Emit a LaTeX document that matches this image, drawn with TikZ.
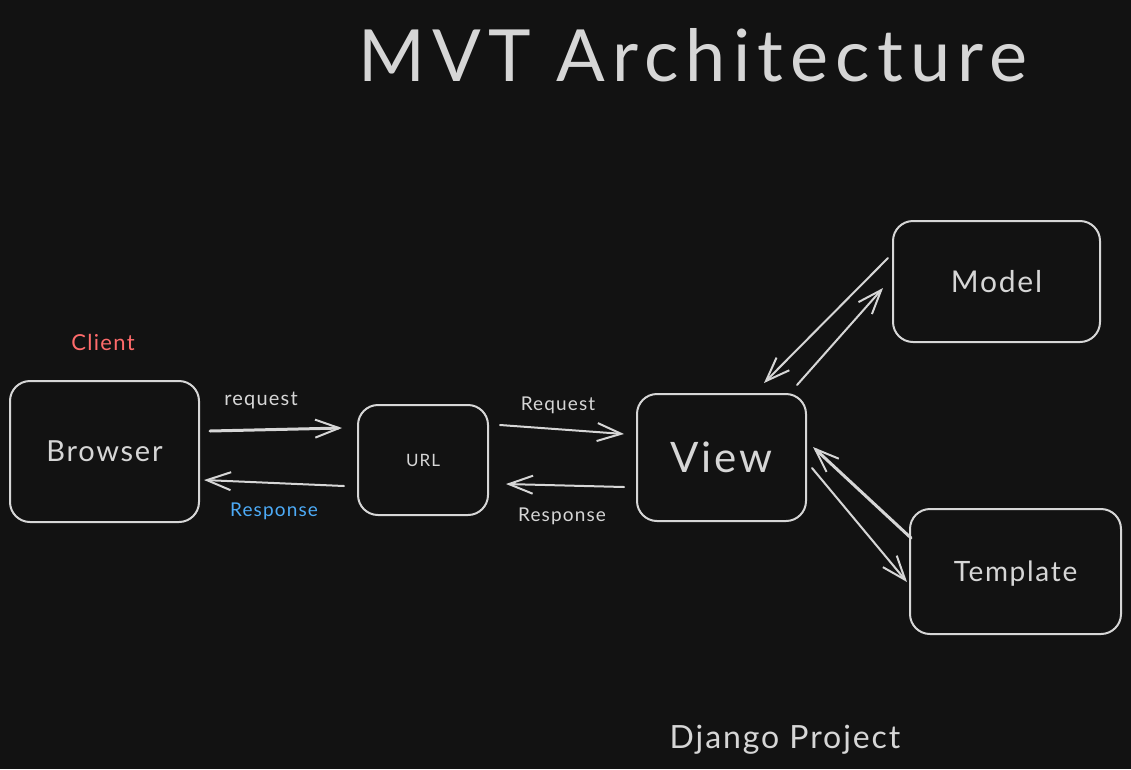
\documentclass[tikz,border=0pt]{standalone}
\usepackage{fontspec}
\setmainfont{Lato}[LetterSpace=6]
\newfontfamily\titlefont{Lato}[LetterSpace=10]
\usetikzlibrary{arrows.meta,calc}
\definecolor{bg}{HTML}{121212}
\definecolor{ink}{HTML}{D6D6D6}
\definecolor{clientred}{HTML}{FF6B6B}
\definecolor{respblue}{HTML}{4DABF7}
\tikzset{
  boxnode/.style={draw=ink, line width=2pt, rounded corners=20pt, text=ink, inner sep=0pt},
  lbl/.style={text=ink, inner sep=0pt},
  arr/.style={draw=ink, line width=2pt, line cap=round, line join=round,
    -{Straight Barb[length=24pt,width=18pt,line width=2pt]}},
  thickarr/.style={arr, line width=3pt},
}
\newcommand{\fsz}[1]{\fontsize{#1}{#1}\selectfont}
\begin{document}
\begin{tikzpicture}[x=1pt,y=-1pt]
\fill[bg] (0,0) rectangle (1131,769);
\useasboundingbox (0,0) rectangle (1131,769);

\node[lbl, font=\titlefont\fsz{72}] (title) at (693,55) {MVT Architecture};

\node[boxnode, minimum width=189pt, minimum height=141pt, font=\fsz{29}] (browser) at (104.5,451.5) {Browser};
\node[boxnode, minimum width=130pt, minimum height=110pt, font=\fsz{17}] (url) at (423,460) {URL};
\node[boxnode, minimum width=169pt, minimum height=127pt, font=\fsz{42}] (view) at (721.5,457.5) {View};
\node[boxnode, minimum width=207pt, minimum height=121pt, font=\fsz{30}] (model) at (996.5,281.5) {Model};
\node[boxnode, minimum width=211pt, minimum height=125pt, font=\fsz{28}, text depth=-6pt] (template) at (1015.5,571.5) {Template};

\node[lbl, text=clientred, font=\fsz{22}] (client) at (103,342) {Client};
\node[lbl, font=\fsz{20}] (req1) at (261,400) {request};
\node[lbl, text=respblue, font=\fsz{19}] (resp1) at (274,511) {Response};
\node[lbl, font=\fsz{19}] (req2) at (558,405) {Request};
\node[lbl, font=\fsz{19}] (resp2) at (562,516) {Response};
\node[lbl, font=\fsz{32}] (django) at (785,740) {Django Project};

\draw[thickarr] ($(browser.east)+(10,-20.5)$) -- ($(url.west)+(-15,-32)$);
\draw[arr] ($(url.west)+(-13,26)$) -- ($(browser.east)+(4,28.5)$);
\draw[arr] ($(url.east)+(11,-35)$) -- ($(view.west)+(-12,-23.5)$);
\draw[arr] ($(view.west)+(-12,29.5)$) -- ($(url.east)+(17,24)$);
\draw[arr] ($(view.north)+(75.5,-8)$) -- ($(model.west)+(-9,6.5)$);
\draw[arr] ($(model.west)+(-4,-23.5)$) -- ($(view.north)+(42.5,-10)$);
\draw[arr] ($(view.east)+(5,10.5)$) -- ($(template.west)+(-2,10.5)$);
\draw[thickarr] ($(template.west)+(2,-33.5)$) -- ($(view.east)+(6,-10.5)$);
\end{tikzpicture}
\end{document}
